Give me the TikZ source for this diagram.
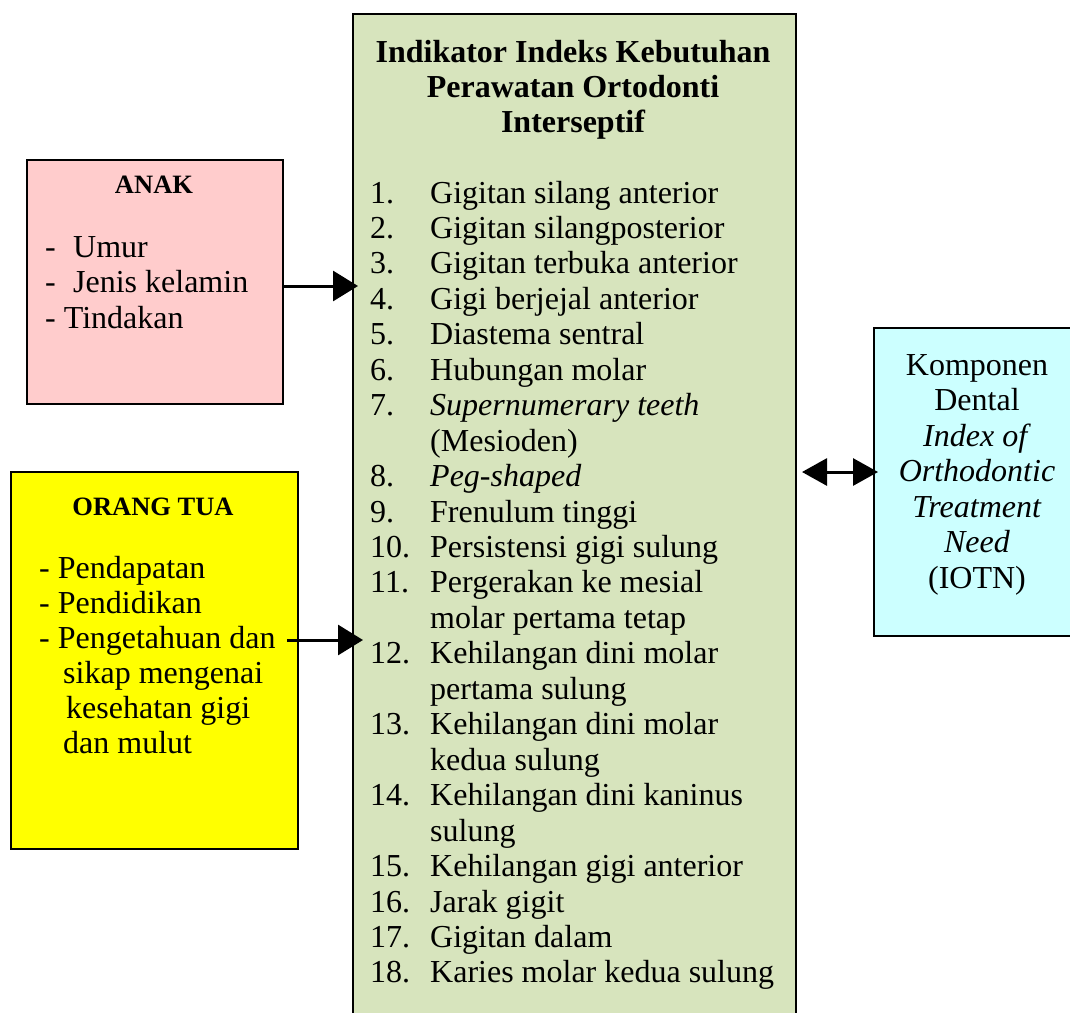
\documentclass[tikz,border=0pt]{standalone}
\usepackage{fontspec}
\setmainfont{Liberation Serif}
\usetikzlibrary{arrows.meta}
\definecolor{anakpink}{HTML}{FFCCCC}
\definecolor{otyellow}{HTML}{FFFF00}
\definecolor{midgreen}{HTML}{D7E4BD}
\definecolor{iotncyan}{HTML}{CCFFFF}
\tikzset{
  box/.style={draw=black, line width=2pt, inner sep=0pt, anchor=north west},
  txt/.style={anchor=base west, inner sep=0pt, font=\fontsize{32}{35.5}\selectfont},
  ctxt/.style={anchor=base, inner sep=0pt, font=\fontsize{32}{35.5}\selectfont},
  bigttl/.style={anchor=base, inner sep=0pt, font=\fontsize{32}{35.5}\selectfont\bfseries},
  smallttl/.style={anchor=base, inner sep=0pt, font=\fontsize{26.5}{30}\selectfont\bfseries},
  arr/.style={line width=3pt, -{Triangle[length=25pt,width=30pt]}},
  darr/.style={line width=3pt, {Triangle[length=25pt,width=27pt]}-{Triangle[length=25pt,width=27pt]}},
}
\begin{document}
\begin{tikzpicture}[x=1pt,y=-1pt]
\clip (0,0) rectangle (1070,1012);
\fill[white] (0,0) rectangle (1070,1012);
% boxes
\node[box, fill=anakpink, minimum width=256pt, minimum height=244pt] (anak) at (26,159) {};
\node[box, fill=otyellow, minimum width=287pt, minimum height=377pt] (ortu) at (10,471) {};
\node[box, fill=midgreen, minimum width=443pt, minimum height=1030pt] (main) at (352,13) {};
\node[box, fill=iotncyan, minimum width=230pt, minimum height=308pt] (iotn) at (873,327) {};
% ANAK
\node[smallttl] (anakttl) at (154,193) {ANAK};
\node[txt] (a1) at (45,257) {\makebox[28pt][l]{-}Umur};
\node[txt] (a2) at (45,292) {\makebox[28pt][l]{-}Jenis kelamin};
\node[txt] (a3) at (45,328) {- Tindakan};
% ORANG TUA
\node[smallttl] (ortuttl) at (153,515) {ORANG TUA};
\node[txt] (o1) at (39,578) {- Pendapatan};
\node[txt] (o2) at (39,613) {- Pendidikan};
\node[txt] (o3) at (39,648) {- Pengetahuan dan};
\node[txt] (o4) at (63,683) {sikap mengenai};
\node[txt] (o5) at (66,718) {kesehatan gigi};
\node[txt] (o6) at (63,753) {dan mulut};
% main title
\node[bigttl] (m1) at (573,62) {Indikator Indeks Kebutuhan};
\node[bigttl] (m2) at (573,97) {Perawatan Ortodonti};
\node[bigttl] (m3) at (573,132) {Interseptif};
% list
\foreach \n/\t [count=\i from 0] in {
 1./Gigitan silang anterior,
 2./Gigitan silangposterior,
 3./Gigitan terbuka anterior,
 4./Gigi berjejal anterior,
 5./Diastema sentral,
 6./Hubungan molar,
 7./\textit{Supernumerary teeth},
 /(Mesioden),
 8./\textit{Peg-shaped},
 9./Frenulum tinggi,
 10./Persistensi gigi sulung,
 11./Pergerakan ke mesial,
 /molar pertama tetap,
 12./Kehilangan dini molar,
 /pertama sulung,
 13./Kehilangan dini molar,
 /kedua sulung,
 14./Kehilangan dini kaninus,
 /sulung,
 15./Kehilangan gigi anterior,
 16./Jarak gigit,
 17./Gigitan dalam,
 18./Karies molar kedua sulung}
{
 \node[txt] (num\i) at (370,{203+35.45*\i}) {\n};
 \node[txt] (item\i) at (430,{203+35.45*\i}) {\t};
}
% IOTN text
\foreach \t [count=\i from 0] in {Komponen, Dental, \textit{Index of}, \textit{Orthodontic}, \textit{Treatment}, \textit{Need}, (IOTN)}
{
 \node[ctxt] (r\i) at (977,{375+35.5*\i}) {\t};
}
% arrows
\coordinate (t1) at (358,286);
\draw[arr] (anak.east |- t1) -- (t1);
\coordinate (s2) at (287,640);
\coordinate (t2) at (363,640);
\draw[arr] (s2) -- (t2);
\coordinate (d1) at (802,472);
\coordinate (d2) at (878,472);
\draw[darr] (d1) -- (d2);
\end{tikzpicture}
\end{document}
